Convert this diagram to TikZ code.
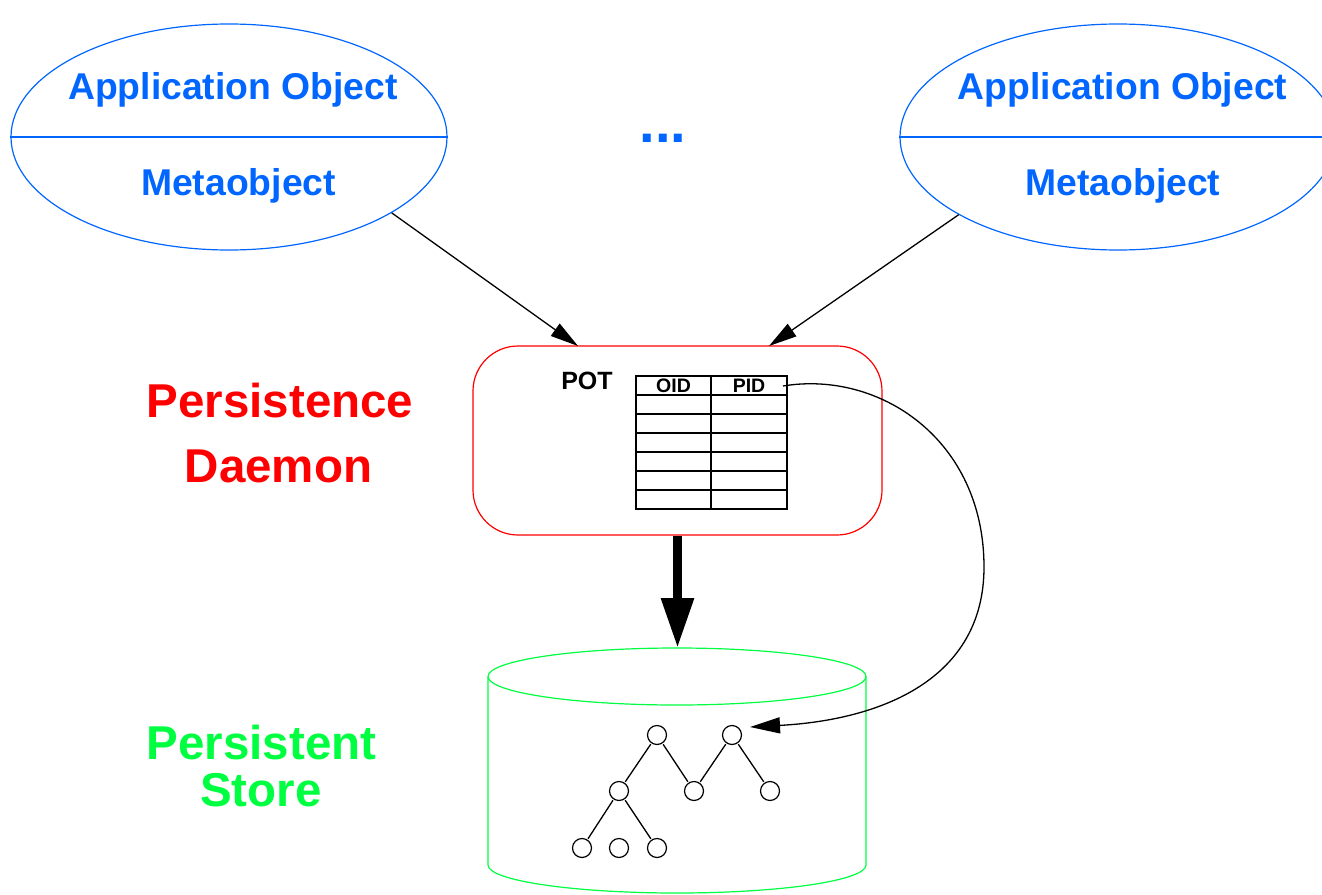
\documentclass[tikz,border=0pt]{standalone}
\usepackage{fontspec}
\setmainfont{Liberation Sans}
\usetikzlibrary{arrows.meta,shapes.geometric,calc}
\definecolor{objblue}{RGB}{0,102,255}
\definecolor{pdred}{RGB}{255,0,0}
\definecolor{psgreen}{RGB}{0,255,64}
\tikzset{
  objell/.style={ellipse, draw=objblue, line width=1.2pt, minimum width=436pt, minimum height=226pt, inner sep=0pt},
  objtext/.style={anchor=base, inner sep=0pt, text=objblue, font=\fontsize{37.3}{37.3}\selectfont\bfseries},
  redtext/.style={anchor=base, inner sep=0pt, text=pdred, font=\fontsize{47.5}{47.5}\selectfont\bfseries},
  greentext/.style={anchor=base, inner sep=0pt, text=psgreen, font=\fontsize{47.5}{47.5}\selectfont\bfseries},
  smalltext/.style={anchor=base, inner sep=0pt, font=\fontsize{#1}{#1}\selectfont\bfseries},
  thinarrow/.style={line width=1.3pt, -{Triangle[length=28pt, width=15pt]}},
  treenode/.style={circle, draw, line width=1.2pt, minimum size=19pt, inner sep=0pt},
  treeedge/.style={line width=1.3pt, shorten <=1pt, shorten >=1pt},
  tablelines/.style={line width=1.5pt}
}
\begin{document}
\begin{tikzpicture}[x=1pt, y=-1pt]
\useasboundingbox (0,0) rectangle (1322,894);

% application objects
\node[objell] (objL) at (229,137) {};
\draw[objblue, line width=1.2pt] (objL.west) -- (objL.east);
\node[objtext] (appL) at (233,99) {Application Object};
\node[objtext] (metaL) at (238.5,195) {Metaobject};

\node[objell] (objR) at (1118,137) {};
\draw[objblue, line width=1.2pt] (objR.west) -- (objR.east);
\node[objtext] (appR) at (1122.5,99) {Application Object};
\node[objtext] (metaR) at (1123,195) {Metaobject};

\node[objtext, font=\fontsize{56}{56}\selectfont\bfseries] (dots) at (663,142) {...};

% persistence daemon
\node[draw=pdred, line width=1.2pt, rounded corners=45pt, minimum width=409pt, minimum height=189pt, inner sep=0pt] (pd) at (677.5,440.5) {};
\node[redtext] (pers) at (280,417) {Persistence};
\node[redtext] (daemon) at (278.5,482) {Daemon};
\node[smalltext=25] (pot) at (587,389) {POT};

% table
\draw[tablelines] (636,376) rectangle (787,509);
\draw[tablelines] (711,376) -- (711,509);
\foreach \yy in {395,414,433,452,471,490} {
  \draw[tablelines] (636,\yy) -- (787,\yy);
}
\node[smalltext=19.5] (oid) at (673.5,392) {OID};
\node[smalltext=19.5] (pid) at (749,392) {PID};

% arrows into daemon
\coordinate (tipL) at (578,346);
\coordinate (tipR) at (769,346);
\draw[thinarrow] (objL.-25.4) -- (tipL);
\draw[thinarrow] (objR.-154.9) -- (tipR);

% persistent store cylinder
\draw[psgreen, line width=1.2pt] (677,676.5) ellipse [x radius=189pt, y radius=28.5pt];
\draw[psgreen, line width=1.2pt] (488,676.5) -- (488,865) arc[start angle=180, end angle=360, x radius=189pt, y radius=28pt] -- (866,676.5);
\node[greentext] (pst) at (261.5,759) {Persistent};
\node[greentext] (store) at (261,806) {Store};
\coordinate (cyltop) at (677.5,648);

% thick arrow
\draw[line width=9pt, -{Triangle[length=50pt, width=31pt]}] (pd.south) -- (cyltop);

% tree
\node[treenode] (t1) at (657,735) {};
\node[treenode] (t2) at (732,735) {};
\node[treenode] (m1) at (619,791) {};
\node[treenode] (m2) at (694,791) {};
\node[treenode] (m3) at (770,791) {};
\node[treenode] (b1) at (582,848) {};
\node[treenode] (b2) at (619,848) {};
\node[treenode] (b3) at (657,848) {};
\draw[treeedge] (t1) -- (m1);
\draw[treeedge] (t1) -- (m2);
\draw[treeedge] (t2) -- (m2);
\draw[treeedge] (t2) -- (m3);
\draw[treeedge] (m1) -- (b1);
\draw[treeedge] (m1) -- (b3);

% curved pointer from PID to tree
\coordinate (pidpt) at (783,386);
\coordinate (treetip) at (750,727);
\draw[line width=1.3pt, -{Triangle[length=30pt, width=16pt]}] (pidpt) .. controls (880,370) and (984,440) .. (984,567) .. controls (984,680) and (880,720) .. (treetip);
\end{tikzpicture}
\end{document}
